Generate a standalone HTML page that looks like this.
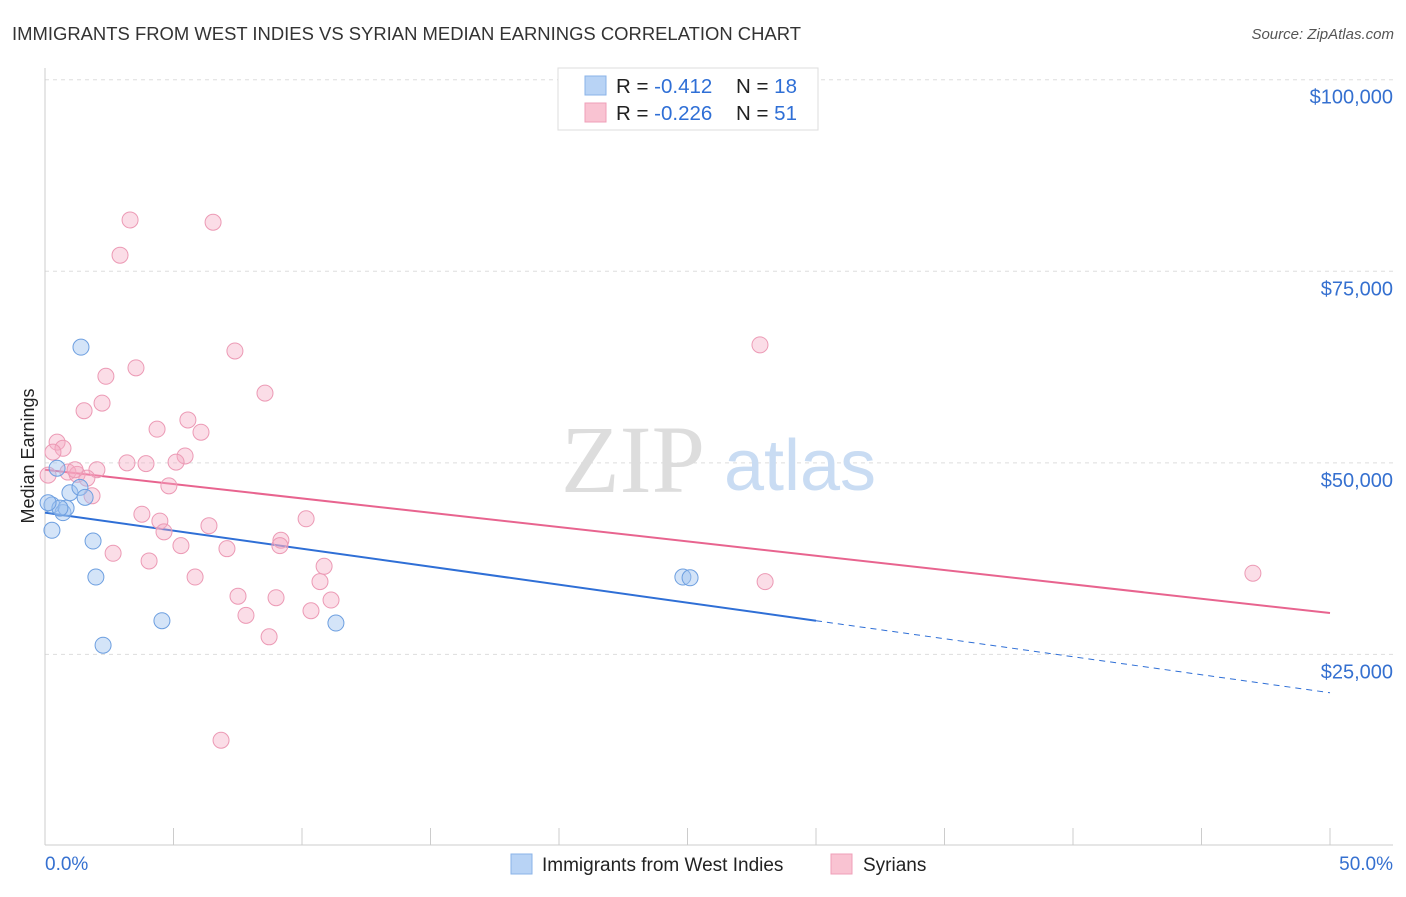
<!DOCTYPE html>
<html><head><meta charset="utf-8"><style>
body{margin:0;background:#fff;font-family:"Liberation Sans",sans-serif;}
svg text{font-family:"Liberation Sans",sans-serif;}
</style></head><body>
<svg id="chart" width="1406" height="892">
<text x="12" y="40" font-size="18" fill="#333" textLength="789" lengthAdjust="spacingAndGlyphs">IMMIGRANTS FROM WEST INDIES VS SYRIAN MEDIAN EARNINGS CORRELATION CHART</text>
<text x="1394" y="39" font-size="15" fill="#555" font-style="italic" text-anchor="end">Source: ZipAtlas.com</text>
<text transform="translate(34,456) rotate(-90)" font-size="18" fill="#222" text-anchor="middle">Median Earnings</text>
<g id="grid"></g>
<g id="wm">
<text x="633" y="492" font-size="96" fill="#ddd" text-anchor="middle" style="font-family:'Liberation Serif',serif">ZIP</text>
<text x="800" y="490" font-size="72" fill="#c9dcf3" text-anchor="middle">atlas</text>
</g>
<g id="axes"></g>
<g id="lines"></g>
<g id="pts"></g>
<g>
<rect x="558" y="68" width="260" height="62" fill="#fff" stroke="#ddd"/>
<rect x="585" y="76" width="21" height="19" fill="#b8d3f5" stroke="#8ab3e8"/>
<rect x="585" y="103" width="21" height="19" fill="#f9c3d2" stroke="#ef9fb8"/>
<text x="616" y="93" font-size="20.5" fill="#222">R = <tspan fill="#2f6fd6">-0.412</tspan><tspan x="736">N = </tspan><tspan fill="#2f6fd6">18</tspan></text>
<text x="616" y="120" font-size="20.5" fill="#222">R = <tspan fill="#2f6fd6">-0.226</tspan><tspan x="736">N = </tspan><tspan fill="#2f6fd6">51</tspan></text>
</g>
<g>
<rect x="511" y="854" width="21" height="20" fill="#b8d3f5" stroke="#8ab3e8"/>
<text x="542" y="871" font-size="19" fill="#222">Immigrants from West Indies</text>
<rect x="831" y="854" width="21" height="20" fill="#f9c3d2" stroke="#ef9fb8"/>
<text x="863" y="871" font-size="19" fill="#222">Syrians</text>
</g>
</svg>
<script>
const yTicks=[25000,50000,75000,100000];
const yTickLabels=["$25,000","$50,000","$75,000","$100,000"];
const xEndLabels=["0.0%","50.0%"];
const blueX=[0.27,0.27,0.47,0.70,0.82,0.97,1.36,1.56,1.40,1.87,1.98,2.26,4.55,11.32,24.82,25.10,0.58,0.12];
const blueY=[44500,41200,49300,43500,44100,46100,46800,45500,65100,39800,35100,26200,29400,29100,35100,35000,44100,44800];
const pinkX=[3.31,6.54,2.92,7.39,27.82,3.54,2.37,8.56,2.22,1.52,5.56,4.36,6.07,0.47,0.70,5.45,3.19,3.93,5.10,2.02,0.89,1.25,1.63,4.82,1.83,0.31,3.77,4.47,10.16,6.38,4.63,9.18,5.29,9.14,7.08,2.65,4.05,10.86,5.84,10.70,28.02,47.00,7.51,8.99,11.13,7.82,10.35,8.72,6.85,0.12,1.17];
const pinkY=[81700,81400,77100,64600,65400,62400,61300,59100,57800,56800,55600,54400,54000,52700,51900,50900,50000,49900,50100,49100,48800,48500,48000,47000,45700,51400,43300,42400,42700,41800,41000,39900,39200,39200,38800,38200,37200,36500,35100,34500,34500,35600,32600,32400,32100,30100,30700,27300,13800,48400,49100];
const blueTrend=[[0,43500],[30,29400],[50,20000]];
const pinkTrend=[[0,49100],[50,30400]];
const NS="http://www.w3.org/2000/svg";
const X=v=>45+v*25.7;
const Y=v=>846-v/130.5;
function mk(t,a,p){const e=document.createElementNS(NS,t);for(const k in a)e.setAttribute(k,a[k]);p.appendChild(e);return e;}
const grid=document.getElementById('grid'),axes=document.getElementById('axes');
yTicks.forEach((t,i)=>{
 const l=mk('line',{x1:45,x2:1393,y1:Y(t),y2:Y(t),stroke:'#ddd','stroke-dasharray':'4,4'},grid);
 
 
 const tx=mk('text',{x:1393,y:Y(t)+24,'font-size':20,fill:'#3570d0','text-anchor':'end'},axes);
 tx.textContent=yTickLabels[i];
 
 
});
mk('line',{x1:45,x2:45,y1:68,y2:845,stroke:'#ccc'},axes);
mk('line',{x1:45,x2:1393,y1:845,y2:845,stroke:'#ccc'},axes);
for(let i=0;i<=10;i++){const t=mk('line',{x1:X(i*5),x2:X(i*5),y1:828,y2:845,stroke:'#ccc'},axes);
 
 }
[[0,'start'],[50,'end']].forEach((p,i)=>{const t=mk('text',{x:i?1393:45,y:870,'font-size':19,fill:'#3570d0','text-anchor':p[1]},axes);t.textContent=xEndLabels[i];
 
 });
const lines=document.getElementById('lines');
const b1=mk('line',{x1:X(blueTrend[0][0]),y1:Y(blueTrend[0][1]),x2:X(blueTrend[1][0]),y2:Y(blueTrend[1][1]),stroke:'#2f6fd6','stroke-width':2},lines);


const b2=mk('line',{x1:X(blueTrend[1][0]),y1:Y(blueTrend[1][1]),x2:X(blueTrend[2][0]),y2:Y(blueTrend[2][1]),stroke:'#2f6fd6','stroke-width':1,'stroke-dasharray':'6,5'},lines);


const p1=mk('line',{x1:X(pinkTrend[0][0]),y1:Y(pinkTrend[0][1]),x2:X(pinkTrend[1][0]),y2:Y(pinkTrend[1][1]),stroke:'#e8648f','stroke-width':2},lines);


const pts=document.getElementById('pts');
pinkX.forEach((x,i)=>{const c=mk('circle',{cx:X(x),cy:Y(pinkY[i]),r:8,fill:'rgba(244,170,195,0.4)',stroke:'#ec9ab5','stroke-width':1},pts);
 
 });
blueX.forEach((x,i)=>{const c=mk('circle',{cx:X(x),cy:Y(blueY[i]),r:8,fill:'rgba(160,195,240,0.45)',stroke:'#6d9fe0','stroke-width':1},pts);
 
 });
</script>
</body></html>
